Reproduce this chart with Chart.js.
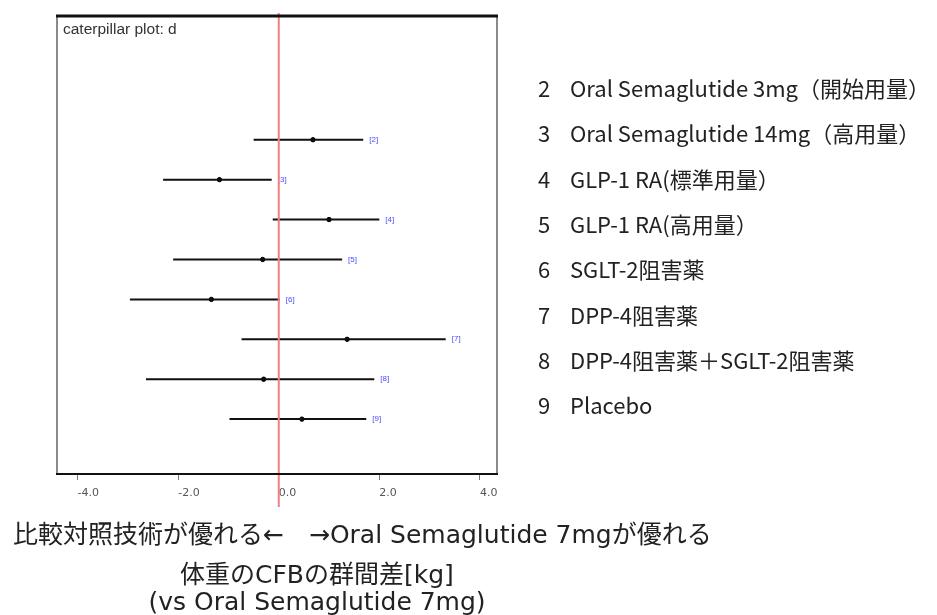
<!DOCTYPE html>
<html>
<head>
<meta charset="utf-8">
<script src="https://cdn.jsdelivr.net/npm/chart.js@4.4.1/dist/chart.umd.min.js"></script>
<style>
  html, body { margin: 0; padding: 0; background: #fff; }
  #wrap { position: relative; width: 937px; height: 615px; overflow: hidden; }
  #chart { position: absolute; left: 0; top: 0; }
  .txt { position: absolute; white-space: nowrap; color: #222; line-height: 1; }
  .plotTitle { font: 15.5px "Liberation Sans", Arial, sans-serif; color: #333; transform: translateY(-50%); }
  .legNum, .legTxt { font: 22px "Noto Sans CJK JP", "Noto Sans", sans-serif; transform: translateY(-50%); }
  .axisTxt { font: 25px "DejaVu Sans", "Noto Sans CJK JP", sans-serif; transform: translateY(-50%); }
</style>
</head>
<body>
<div id="wrap">
  <canvas id="chart" width="937" height="615"></canvas>
</div>
<script>
// 行番号（治療）と群間差・95%CI（読み取り値）
const rows = [2, 3, 4, 5, 6, 7, 8, 9];
const estimate = [0.68, -1.18, 1.0, -0.32, -1.34, 1.36, -0.3, 0.46];
const lower = [-0.5, -2.3, -0.12, -2.1, -2.96, -0.74, -2.64, -0.98];
const upper = [1.68, -0.14, 2.0, 1.26, 0.02, 3.32, 1.9, 1.74];

const xTicks = [-4, -2, 0, 2, 4];

const legendLabels = [
  'Oral Semaglutide 3mg（開始用量）',
  'Oral Semaglutide 14mg（高用量）',
  'GLP-1 RA(標準用量）',
  'GLP-1 RA(高用量）',
  'SGLT-2阻害薬',
  'DPP-4阻害薬',
  'DPP-4阻害薬＋SGLT-2阻害薬',
  'Placebo'
];

const plotTitle = 'caterpillar plot: d';
const favourLabel = '比較対照技術が優れる←　→Oral Semaglutide 7mgが優れる';
const axisTitle = ['体重のCFBの群間差[kg]', '(vs Oral Semaglutide 7mg)'];

// 区間は null で区切った1本の線として描く
const intervalData = rows.flatMap((r, i) => [
  { x: lower[i], y: r },
  { x: upper[i], y: r },
  { x: null, y: null }
]);
const pointData = rows.map((r, i) => ({ x: estimate[i], y: r }));

const framePlugin = {
  id: 'frame',
  afterDatasetsDraw(chart) {
    const { ctx, chartArea: a, scales } = chart;
    ctx.save();
    // 行ラベル [k]
    ctx.font = '8px "Liberation Sans", Arial, sans-serif';
    ctx.fillStyle = '#4a4aff';
    ctx.textBaseline = 'middle';
    rows.forEach((r, i) => {
      ctx.fillText('[' + r + ']', scales.x.getPixelForValue(upper[i]) + 6, scales.y.getPixelForValue(r));
    });
    ctx.restore();
  },
  afterDraw(chart) {
    const { ctx, chartArea: a, scales } = chart;
    ctx.save();
    // 元図は右端で切れている
    ctx.fillStyle = '#fff';
    ctx.fillRect(a.right, a.bottom + 2, 30, 28);
    // 基準線 0
    const x0 = scales.x.getPixelForValue(0);
    ctx.strokeStyle = '#f27f82';
    ctx.lineWidth = 2;
    ctx.beginPath();
    ctx.moveTo(x0, a.top - 3);
    ctx.lineTo(x0, a.bottom + 32);
    ctx.stroke();
    // 枠
    ctx.strokeStyle = '#8a8a8a';
    ctx.lineWidth = 2;
    ctx.beginPath();
    ctx.moveTo(a.left, a.top); ctx.lineTo(a.left, a.bottom);
    ctx.moveTo(a.right - 1, a.top); ctx.lineTo(a.right - 1, a.bottom);
    ctx.stroke();
    ctx.strokeStyle = '#111';
    ctx.lineWidth = 3;
    ctx.beginPath();
    ctx.moveTo(a.left - 1, a.top); ctx.lineTo(a.right, a.top);
    ctx.stroke();
    ctx.lineWidth = 2;
    ctx.beginPath();
    ctx.moveTo(a.left - 1, a.bottom - 1); ctx.lineTo(a.right, a.bottom - 1);
    ctx.stroke();
    ctx.restore();
  }
};

new Chart(document.getElementById('chart'), {
  type: 'scatter',
  data: {
    datasets: [
      {
        data: intervalData,
        showLine: true,
        spanGaps: false,
        borderColor: '#111',
        borderWidth: 2,
        pointRadius: 0
      },
      {
        data: pointData,
        backgroundColor: '#000',
        borderColor: '#000',
        pointRadius: 2.2
      }
    ]
  },
  options: {
    responsive: false,
    animation: false,
    layout: { padding: { left: 57, top: 16, right: 439, bottom: 110 } },
    plugins: { legend: { display: false }, tooltip: { enabled: false } },
    scales: {
      x: {
        type: 'linear',
        min: -4.41,
        max: 4.36,
        afterBuildTicks: (s) => { s.ticks = xTicks.map(v => ({ value: v })); },
        afterFit: (s) => { s.height = 30; },
        ticks: {
          callback: (v) => Number(v).toFixed(1),
          color: '#555',
          font: { family: '"DejaVu Sans", sans-serif', size: 11 },
          padding: 7,
          align: 'start',
          maxRotation: 0
        },
        grid: { drawOnChartArea: false, drawTicks: true, tickLength: 5, color: '#777' },
        border: { display: false }
      },
      y: {
        type: 'linear',
        display: false,
        reverse: true,
        min: -1.1,
        max: 10.4
      }
    }
  },
  plugins: [framePlugin]
});

// 文字（HTML）
const wrap = document.getElementById('wrap');
function addText(cls, text, left, top) {
  const d = document.createElement('div');
  d.className = 'txt ' + cls;
  d.textContent = text;
  d.style.left = left + 'px';
  d.style.top = top + 'px';
  wrap.appendChild(d);
  return d;
}
addText('plotTitle', plotTitle, 63, 29);
legendLabels.forEach((t, i) => {
  const y = 87 + i * 45.3;
  addText('legNum', String(rows[i]), 538, y);
  addText('legTxt', t, 570, y);
});
addText('axisTxt', favourLabel, 13, 532);
axisTitle.forEach((t, i) => {
  const d = addText('axisTxt', t, 0, 572 + i * 29);
  d.style.left = (317 - d.offsetWidth / 2) + 'px';
});
</script>
</body>
</html>
